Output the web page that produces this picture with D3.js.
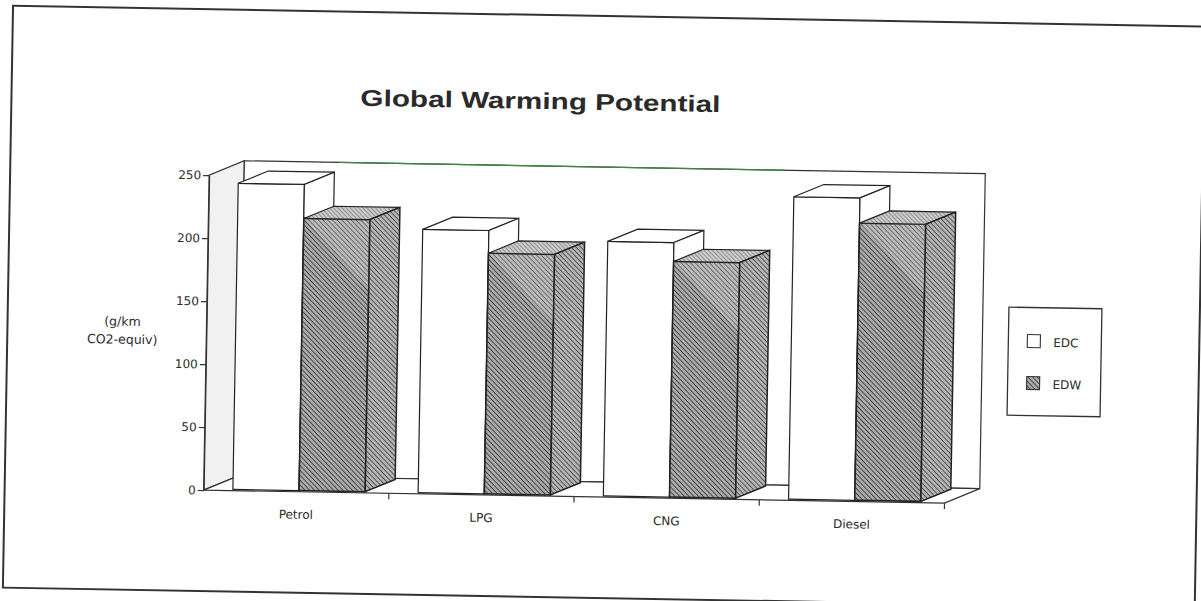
<!DOCTYPE html>
<html>
<head>
<meta charset="utf-8">
<script src="https://cdn.jsdelivr.net/npm/d3@7"></script>
<style>
  html, body { margin: 0; padding: 0; background: #fff; }
  svg { display: block; }
  text { font-family: "DejaVu Sans", "Liberation Sans", sans-serif; fill: #2a2a2a; }
</style>
</head>
<body>
<svg id="chart" width="1201" height="601"></svg>
<script>
// Global warming potential, g/km CO2-equivalent, per fuel and drive cycle
const categories = ["Petrol", "LPG", "CNG", "Diesel"];
const series = ["EDC", "EDW"];
const edcValues = [243, 209, 202, 240];
const edwValues = [216, 191, 187, 220];
const yTicks = [0, 50, 100, 150, 200, 250];
const titleText = "Global Warming Potential";
const yLabelLines = ["(g/km", "CO2-equiv)"];

const values = { EDC: edcValues, EDW: edwValues };

const svg = d3.select("#chart");
const defs = svg.append("defs");

// diagonal hatch fills for the EDW columns
function hatch(id, bg, line, gap, width) {
  const p = defs.append("pattern")
    .attr("id", id).attr("patternUnits", "userSpaceOnUse")
    .attr("width", gap).attr("height", gap)
    .attr("patternTransform", "rotate(-45)");
  p.append("rect").attr("width", gap).attr("height", gap).attr("fill", bg);
  p.append("line").attr("x1", 0).attr("y1", 0).attr("x2", 0).attr("y2", gap)
    .attr("stroke", line).attr("stroke-width", width);
}
hatch("hatchFront", "#aaaaaa", "#2a2a2a", 3.4, 1.5);
hatch("hatchSide", "#b4b4b4", "#303030", 3.4, 1.4);
hatch("hatchTop", "#cccccc", "#5e5e5e", 3.0, 1.1);

// whole sheet sits slightly skewed on the page
const page = svg.append("g").attr("transform", "rotate(1.0, 600, 300)");

page.append("rect")
  .attr("x", 8).attr("y", 16).attr("width", 1192).attr("height", 582)
  .attr("fill", "#fff").attr("stroke", "#333").attr("stroke-width", 2);

// 3-D frame: depth vector of the plot box
const DX = 35, DY = -15;
const x = d3.scaleBand().domain(categories).range([207, 948]);
const xs = d3.scaleBand().domain(series).range([0, x.bandwidth()]).paddingInner(0).paddingOuter(0.4);
const y = d3.scaleLinear().domain([0, 250]).range([497, 182]);

const x0 = x.range()[0], x1 = x.range()[1];
const yb = y(0), yt = y(250);
const edge = "#333";

// left side wall
page.append("path")
  .attr("d", d3.line()([[x0, yb], [x0, yt], [x0 + DX, yt + DY], [x0 + DX, yb + DY]]) + "Z")
  .attr("fill", "#f1f1f1").attr("stroke", edge).attr("stroke-width", 1.2);
// back wall
page.append("path")
  .attr("d", d3.line()([[x0 + DX, yb + DY], [x0 + DX, yt + DY], [x1 + DX, yt + DY], [x1 + DX, yb + DY]]) + "Z")
  .attr("fill", "#fff").attr("stroke", edge).attr("stroke-width", 1.2);
// greenish run along the top edge of the back wall
page.append("line")
  .attr("x1", x0 + DX + 95).attr("x2", x0 + DX + 540)
  .attr("y1", yt + DY).attr("y2", yt + DY)
  .attr("stroke", "#3d8a3d").attr("stroke-width", 1.3);
// floor
page.append("path")
  .attr("d", d3.line()([[x0, yb], [x1, yb], [x1 + DX, yb + DY], [x0 + DX, yb + DY]]) + "Z")
  .attr("fill", "#fff").attr("stroke", edge).attr("stroke-width", 1.2);

// category boundary ticks on the front floor edge
page.selectAll(".ctick").data(categories).join("line")
  .attr("x1", d => x(d) + x.bandwidth()).attr("x2", d => x(d) + x.bandwidth())
  .attr("y1", yb).attr("y2", yb + 6)
  .attr("stroke", edge).attr("stroke-width", 1.2);

// y axis
const yAxis = page.append("g").attr("transform", `translate(${x0},0)`)
  .call(d3.axisLeft(y).tickValues(yTicks).tickSize(6).tickSizeOuter(0).tickPadding(2));
yAxis.select(".domain").attr("stroke", edge).attr("stroke-width", 1.2);
yAxis.selectAll(".tick line").attr("stroke", edge).attr("stroke-width", 1.2);
yAxis.selectAll(".tick text").attr("font-size", 12).attr("fill", "#2a2a2a")
  .style("font-family", "'DejaVu Sans', sans-serif");

// columns
const f0 = 0.08, f1 = 0.93;
const bw = xs.bandwidth();
const bdx = DX * (f1 - f0), bdy = DY * (f1 - f0);
const bars = [];
categories.forEach((c, i) => {
  series.forEach(s => bars.push({ c, s, v: values[s][i] }));
});

const barG = page.selectAll(".bar").data(bars).join("g").attr("class", "bar");
barG.each(function (d) {
  const g = d3.select(this);
  const left = x(d.c) + xs(d.s) + DX * f0;
  const base = y(0) + DY * f0;
  const top = y(d.v) + DY * f0;
  const right = left + bw;
  const hatched = d.s === "EDW";
  const line = d3.line();
  const front = [[left, base], [left, top], [right, top], [right, base]];
  const topFace = [[left, top], [left + bdx, top + bdy], [right + bdx, top + bdy], [right, top]];
  const side = [[right, base], [right, top], [right + bdx, top + bdy], [right + bdx, base + bdy]];
  g.append("path").attr("d", line(front) + "Z")
    .attr("fill", hatched ? "url(#hatchFront)" : "#fff")
    .attr("stroke", "#222").attr("stroke-width", hatched ? 1.6 : 1.2);
  if (hatched) {
    // lighter wash across the upper corner of the hatched face
    g.append("path")
      .attr("d", line([[left, top], [right, top], [right, top + (right - left) * 1.05]]) + "Z")
      .attr("fill", "#fff").attr("opacity", 0.2);
  }
  g.append("path").attr("d", line(topFace) + "Z")
    .attr("fill", hatched ? "url(#hatchTop)" : "#fff")
    .attr("stroke", "#222").attr("stroke-width", 1.2);
  g.append("path").attr("d", line(side) + "Z")
    .attr("fill", hatched ? "url(#hatchSide)" : "#fff")
    .attr("stroke", "#222").attr("stroke-width", hatched ? 1.5 : 1.2);
});

// category labels
page.selectAll(".clabel").data(categories).join("text")
  .attr("x", d => x(d) + x.bandwidth() / 2).attr("y", 524)
  .attr("text-anchor", "middle").attr("font-size", 12)
  .text(d => d);

// title
page.append("text")
  .attr("x", 537).attr("y", 110).attr("text-anchor", "middle")
  .attr("font-size", 23).attr("font-weight", "bold")
  .style("font-family", "'Liberation Sans', Arial, sans-serif")
  .attr("textLength", 360).attr("lengthAdjust", "spacingAndGlyphs")
  .text(titleText);

// y-axis unit label
page.selectAll(".ylab").data(yLabelLines).join("text")
  .attr("x", 123).attr("y", (d, i) => 334 + i * 18)
  .attr("text-anchor", "middle").attr("font-size", 12.5)
  .text(d => d);

// legend
const lg = page.append("g");
lg.append("rect").attr("x", 1009).attr("y", 300).attr("width", 93).attr("height", 108)
  .attr("fill", "#fff").attr("stroke", "#333").attr("stroke-width", 1.3);
const legendRows = lg.selectAll(".lrow").data(series).join("g")
  .attr("transform", (d, i) => `translate(1028, ${327 + i * 42})`);
legendRows.append("rect").attr("width", 13).attr("height", 13)
  .attr("fill", d => d === "EDW" ? "url(#hatchFront)" : "#fff")
  .attr("stroke", "#333").attr("stroke-width", 1.1);
legendRows.append("text").attr("x", 26).attr("y", 12).attr("font-size", 12)
  .text(d => d);
</script>
</body>
</html>
